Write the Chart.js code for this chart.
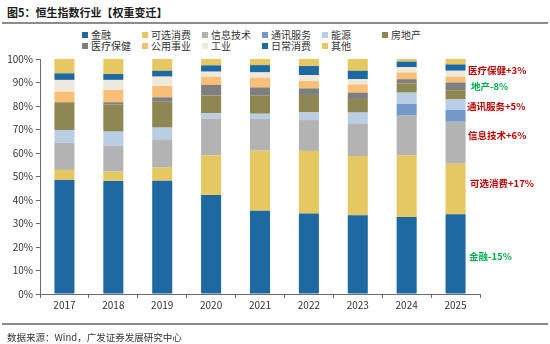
<!DOCTYPE html>
<html>
<head>
<meta charset="utf-8">
<script src="https://cdn.jsdelivr.net/npm/chart.js@4.4.1/dist/chart.umd.min.js"></script>
<style>
  body { margin: 0; width: 550px; height: 344px; position: relative; overflow: hidden; background: #fff;
         font-family: "Noto Sans CJK SC", "Noto Sans", sans-serif; color: #333; }
  #title { position: absolute; left: 7px; top: 4px; font-size: 11px; font-weight: bold; color: #1a1a1a; }
  .rule { position: absolute; left: 2px; right: 2px; height: 2px; background: #8c8c8c; }
  #footer { position: absolute; left: 7px; top: 330px; font-size: 9.5px; color: #333; }
  #legend { position: absolute; left: 82px; top: 30px; display: grid; grid-template-columns: repeat(6, 60px); row-gap: 0; }
  .item { font-size: 10px; line-height: 10.5px; white-space: nowrap; display: flex; align-items: center; }
  .item i { display: inline-block; width: 6px; height: 6px; margin-right: 3px; }
  .note { position: absolute; font-size: 9.5px; font-weight: bold; white-space: nowrap; line-height: 12px; }
  canvas { position: absolute; left: 0; top: 0; }
</style>
</head>
<body>
<div id="title">图5：恒生指数行业【权重变迁】</div>
<div class="rule" style="top:22px"></div>
<div id="legend"></div>
<canvas id="chart" width="550" height="344"></canvas>
<div class="rule" style="top:323px"></div>
<div id="footer">数据来源：Wind，广发证券发展研究中心</div>
<div id="notes"></div>
<script>
// 年份与各行业权重（%），自下而上堆叠
const years = ['2017', '2018', '2019', '2020', '2021', '2022', '2023', '2024', '2025'];
const sectors = ['金融', '可选消费', '信息技术', '通讯服务', '能源', '房地产', '医疗保健', '公用事业', '工业', '日常消费', '其他'];
const colors = ['#1F69A3', '#E6C863', '#B3B3B3', '#7399C9', '#B9CDE5', '#8E8751', '#7F7F7F', '#F9BF76', '#EEE9DB', '#1F69A3', '#E6C863'];

const finance     = [48.5, 48.1, 48.2, 42.1, 35.4, 34.3, 33.5, 32.8, 33.9];
const consDisc    = [4.3, 4.0, 5.6, 16.9, 25.6, 26.6, 25.2, 26.2, 21.5];
const infoTech    = [11.6, 11.0, 12.0, 15.6, 13.5, 13.1, 13.9, 16.9, 17.9];
const commSvc     = [0, 0, 0, 0, 0, 0, 0, 5.0, 5.0];
const energy      = [5.4, 6.0, 5.0, 2.3, 2.2, 3.3, 4.6, 4.8, 4.5];
const realEstate  = [11.8, 11.6, 11.0, 7.6, 7.7, 7.4, 5.8, 3.9, 3.9];
const healthCare  = [0, 0.9, 1.9, 4.5, 3.5, 2.8, 2.7, 1.8, 3.3];
const utilities   = [4.5, 5.2, 4.8, 3.5, 4.2, 3.1, 3.5, 2.9, 2.5];
const industrials = [5.0, 4.3, 4.0, 2.1, 2.2, 2.6, 2.2, 2.2, 2.5];
const consStaples = [2.8, 2.5, 2.5, 2.7, 3.1, 3.8, 3.6, 2.4, 2.7];
const others      = [6.1, 6.4, 5.0, 2.7, 2.6, 3.0, 5.0, 1.1, 2.3];

const series = [finance, consDisc, infoTech, commSvc, energy, realEstate, healthCare, utilities, industrials, consStaples, others];

// 右侧变动标注
const noteTexts = ['医疗保健+3%', '地产-8%', '通讯服务+5%', '信息技术+6%', '可选消费+17%', '金融-15%'];
const noteColors = ['#C00000', '#00B050', '#C00000', '#C00000', '#C00000', '#00B050'];
const noteTops = [64, 80, 100, 129, 177, 250];
const noteLefts = [468, 471, 467, 468, 470, 469];

const legendOrder = ['金融', '可选消费', '信息技术', '通讯服务', '能源', '房地产', '医疗保健', '公用事业', '工业', '日常消费', '其他'];
const legend = document.getElementById('legend');
legendOrder.forEach(name => {
  const k = sectors.indexOf(name);
  const d = document.createElement('div');
  d.className = 'item';
  d.innerHTML = `<i style="background:${colors[k]}"></i>${name}`;
  legend.appendChild(d);
});

const notes = document.getElementById('notes');
noteTexts.forEach((t, i) => {
  const d = document.createElement('div');
  d.className = 'note';
  d.style.left = noteLefts[i] + 'px';
  d.style.top = noteTops[i] + 'px';
  d.style.color = noteColors[i];
  d.textContent = t;
  notes.appendChild(d);
});

const axisColor = '#6b6b6b';
const font = { family: '"Noto Sans CJK SC", "Noto Sans", sans-serif', size: 10 };

new Chart(document.getElementById('chart').getContext('2d'), {
  type: 'bar',
  data: {
    labels: years,
    datasets: sectors.map((name, i) => ({
      label: name,
      data: series[i],
      backgroundColor: colors[i],
      borderWidth: 0,
      barPercentage: 0.41,
      categoryPercentage: 1
    }))
  },
  options: {
    responsive: false,
    animation: false,
    layout: { padding: { top: 59, right: 70, left: 0, bottom: 0 } },
    plugins: { legend: { display: false }, tooltip: { enabled: false } },
    scales: {
      x: {
        stacked: true,
        grid: { drawOnChartArea: false, drawTicks: true, tickLength: 4, color: axisColor, offset: true },
        border: { color: axisColor, width: 1 },
        ticks: { color: '#333', font: font, padding: 1 },
        afterFit: s => { s.height = 50; }
      },
      y: {
        stacked: true,
        min: 0,
        max: 100,
        grid: { drawOnChartArea: false, drawTicks: true, tickLength: 4, color: axisColor },
        border: { color: axisColor, width: 1 },
        ticks: { stepSize: 10, color: '#333', font: font, padding: 3, callback: v => v + '%' },
        afterFit: s => { s.width = 40; }
      }
    }
  }
});
</script>
</body>
</html>
